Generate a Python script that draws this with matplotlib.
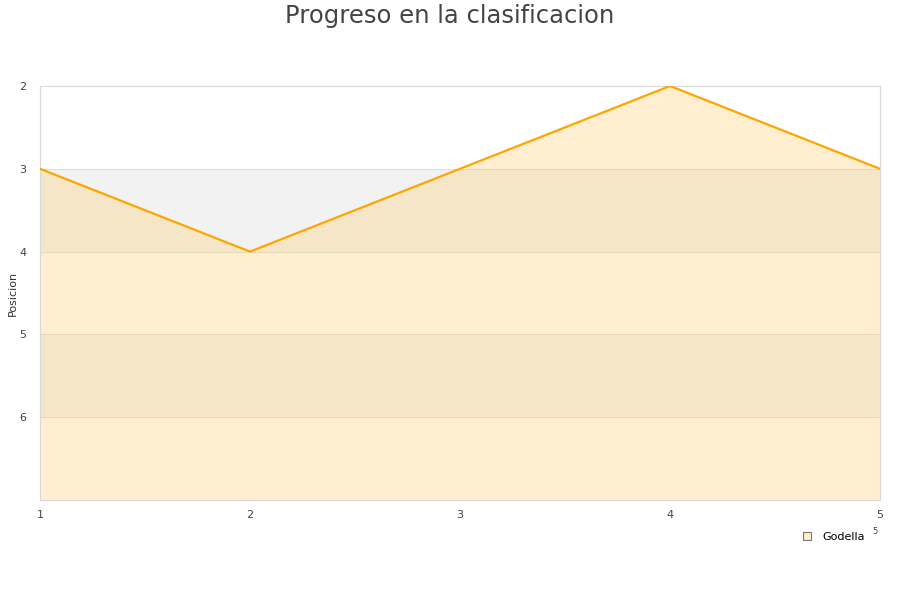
import matplotlib
matplotlib.use("Agg")
import matplotlib.pyplot as plt
from matplotlib.lines import Line2D

jornadas = [1, 2, 3, 4, 5]
posicion = [3, 4, 3, 2, 3]
y_ticks = [2, 3, 4, 5, 6]
equipo = "Godella"

fig = plt.figure(figsize=(9, 6), dpi=100)
ax = fig.add_axes([40 / 900, 1 - 500 / 600, 840 / 900, 414 / 600])

# alternating bands
for lo in [3, 5]:
    ax.axhspan(lo, lo + 1, color="#f2f2f2", zorder=0, lw=0)
for t in y_ticks[1:]:
    ax.axhline(t, color="#dedede", lw=0.8, zorder=1)

ax.fill_between(jornadas, posicion, 7, color="#ffd27a", alpha=0.35, lw=0, zorder=2)
ax.plot(jornadas, posicion, color="#ffa500", lw=1.6, zorder=3)

ax.set_xlim(1, 5)
ax.set_ylim(7, 2)
ax.set_xticks(jornadas)
ax.set_yticks(y_ticks)
ax.tick_params(length=0, labelsize=8, colors="#444444")
ax.tick_params(axis="x", pad=7)
ax.tick_params(axis="y", pad=10)
for s in ax.spines.values():
    s.set_color("#d9d9d9")
ax.set_ylabel("Posicion", fontsize=8, color="#333333", labelpad=1)

fig.text(0.5, 0.993, "Progreso en la clasificacion", ha="center", va="top",
         fontsize=17.5, color="#444444")
fig.text(875 / 900, 1 - 531 / 600, "5", fontsize=6, color="#444444", ha="center", va="center")

handle = Line2D([], [], marker="s", ls="none", markersize=6,
                markerfacecolor="#ffedcc", markeredgecolor="#777777", markeredgewidth=0.8)
fig.legend([handle], [equipo], loc="center", bbox_to_anchor=(830 / 900, 1 - 537 / 600),
           frameon=False, fontsize=8, handletextpad=0.4)

fig.savefig("out.png", dpi=100)
